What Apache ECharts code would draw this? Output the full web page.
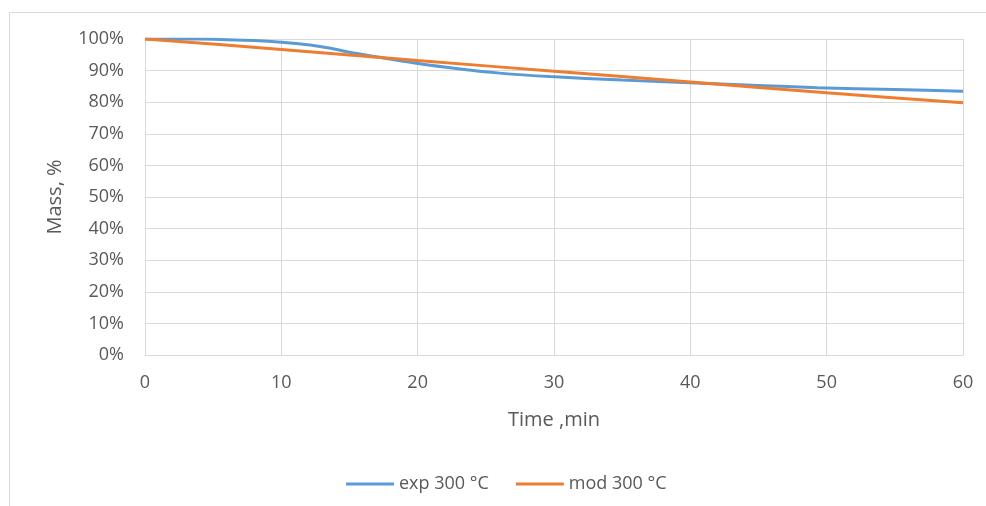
<!DOCTYPE html>
<html><head><meta charset="utf-8">
<script src="https://cdn.jsdelivr.net/npm/echarts@6/dist/echarts.min.js"></script>
<style>html,body{margin:0;padding:0;background:#fff}#c{width:986px;height:506px}</style>
</head><body><div id="c"></div>
<script>
// Time (min) and mass (%)
const expTime = [0, 4, 8, 10, 12.1, 13.6, 15, 17.2, 19.9, 23.1, 26, 29.7, 35, 39.5, 45, 49.3, 55, 60];
const expMass = [100, 100, 99.5, 99.0, 98.1, 97.1, 95.8, 94.2, 92.3, 90.5, 89.2, 88.1, 87.0, 86.2, 85.3, 84.6, 84.0, 83.5];
const modTime = [0, 10, 20, 30, 40, 50, 60];
const modMass = [100, 96.7, 93.2, 89.8, 86.4, 83.0, 79.8];
const yTicks = [0, 10, 20, 30, 40, 50, 60, 70, 80, 90, 100];
const xTicks = [0, 10, 20, 30, 40, 50, 60];

const font = 'Open Sans';
const txt = '#595959';
const gridCol = '#d9d9d9';
const chart = echarts.init(document.getElementById('c'));
chart.setOption({
  backgroundColor: '#fff',
  animation: false,
  graphic: [{
    type: 'polyline', silent: true,
    shape: { points: [[9.5, 506], [9.5, 12.5], [986, 12.5]] },
    style: { stroke: gridCol, lineWidth: 1, fill: null }
  }],
  grid: { left: 145, right: 23, top: 39, bottom: 151, containLabel: false },
  legend: {
    top: 470, left: 341, itemWidth: 48, itemHeight: 3, itemGap: 27, icon: 'rect',
    textStyle: { fontFamily: font, fontSize: 18, color: txt, padding: [0, 0, 0, 0] },
    data: ['exp 300 °C', 'mod 300 °C']
  },
  xAxis: {
    type: 'value', min: xTicks[0], max: xTicks[xTicks.length - 1], interval: 10,
    name: 'Time ,min', nameLocation: 'middle', nameGap: 55,
    nameTextStyle: { fontFamily: font, fontSize: 20, color: txt },
    axisLine: { show: true, lineStyle: { color: gridCol } },
    axisTick: { show: false },
    axisLabel: { fontFamily: font, fontSize: 18, color: txt, margin: 19 },
    splitLine: { show: true, lineStyle: { color: gridCol, width: 1 } }
  },
  yAxis: {
    type: 'value', min: yTicks[0], max: yTicks[yTicks.length - 1], interval: 10,
    name: 'Mass, %', nameLocation: 'middle', nameGap: 80, nameRotate: 90,
    nameTextStyle: { fontFamily: font, fontSize: 20, color: txt },
    axisLine: { show: true, lineStyle: { color: gridCol } },
    axisTick: { show: false },
    axisLabel: { fontFamily: font, fontSize: 18, color: txt, margin: 21, formatter: v => v + '%' },
    splitLine: { show: true, lineStyle: { color: gridCol, width: 1 } }
  },
  series: [
    { name: 'exp 300 °C', type: 'line', smooth: 0.25, showSymbol: false,
      data: expTime.map((t, i) => [t, expMass[i]]),
      lineStyle: { color: '#5B9BD5', width: 3 }, itemStyle: { color: '#5B9BD5' } },
    { name: 'mod 300 °C', type: 'line', smooth: 0.3, showSymbol: false,
      data: modTime.map((t, i) => [t, modMass[i]]),
      lineStyle: { color: '#ED7D31', width: 3 }, itemStyle: { color: '#ED7D31' } }
  ]
});
</script></body></html>
